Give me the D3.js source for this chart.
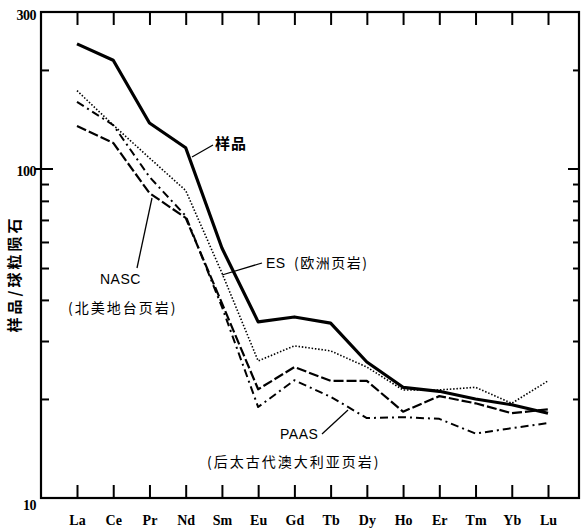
<!DOCTYPE html>
<html><head><meta charset="utf-8">
<script src="https://cdn.jsdelivr.net/npm/d3@7"></script>
<style>
body{margin:0;background:#fff;}
svg{display:block;}
</style></head>
<body>
<svg id="c" width="581" height="531"></svg>
<script>
const elements = ["La","Ce","Pr","Nd","Sm","Eu","Gd","Tb","Dy","Ho","Er","Tm","Yb","Lu"];
const sample = [240,214,138,116,57.5,34.3,35.5,34.0,25.9,21.7,21.1,20.0,19.2,18.1];
const es     = [173,136,108,86,48.3,26.1,29.0,28.0,25.0,21.3,21.3,21.7,19.4,22.7];
const nasc   = [135,120,84.5,71,39.1,21.4,25.0,22.7,22.7,18.3,20.4,19.4,18.1,18.6];
const paas   = [160,136,94.6,72,38.1,18.9,22.8,20.3,17.5,17.6,17.4,15.7,16.3,16.9];
const yTickLabels = [10,100,300];
const minorTicks = [20,30,40,50,60,70,80,90,200];

const svg = d3.select("#c");
const L=41, R=579, T=12, B=498;
const x = d3.scalePoint().domain(elements).range([77,548]);
const y = d3.scaleLog().domain([10,300]).range([B,T]);

// frame
svg.append("rect").attr("x",L).attr("y",T).attr("width",R-L).attr("height",B-T)
  .attr("fill","none").attr("stroke","#000").attr("stroke-width",2.2);

// bottom ticks (inward, up)
const gB = svg.append("g").attr("transform",`translate(0,${B})`)
  .call(d3.axisBottom(x).tickSizeInner(-13).tickSizeOuter(0).tickPadding(17));
gB.select(".domain").remove();
gB.selectAll("line").attr("stroke-width",2);
gB.selectAll("text").attr("font-family","'Liberation Serif','DejaVu Serif',serif")
  .attr("font-weight","bold").attr("font-size",14).attr("fill","#000");

// top ticks (inward, down)
const gT = svg.append("g").attr("transform",`translate(0,${T})`)
  .call(d3.axisTop(x).tickSizeInner(-13).tickSizeOuter(0).tickFormat(""));
gT.select(".domain").remove();
gT.selectAll("line").attr("stroke-width",2);

// left ticks
const gL = svg.append("g").attr("transform",`translate(${L},0)`)
  .call(d3.axisRight(y).tickValues(minorTicks).tickSizeInner(8).tickSizeOuter(0).tickFormat(""));
gL.select(".domain").remove();
gL.selectAll("line").attr("stroke-width",2);
svg.append("line").attr("x1",L-6).attr("x2",L+12).attr("y1",y(100)).attr("y2",y(100))
  .attr("stroke","#000").attr("stroke-width",2);

// right ticks
const gR = svg.append("g").attr("transform",`translate(${R},0)`)
  .call(d3.axisLeft(y).tickValues(minorTicks).tickSizeInner(6).tickSizeOuter(0).tickFormat(""));
gR.select(".domain").remove();
gR.selectAll("line").attr("stroke-width",2);
svg.append("line").attr("x1",R-11).attr("x2",R).attr("y1",y(100)).attr("y2",y(100))
  .attr("stroke","#000").attr("stroke-width",2);

// y labels
svg.selectAll("text.yl").data(yTickLabels).enter().append("text")
  .attr("class","yl").attr("x",36).attr("y",d=>y(d)+(d===10?12:(d===300?8:7)))
  .attr("text-anchor","end")
  .attr("font-family","'Liberation Serif','DejaVu Serif',serif").attr("font-weight","bold")
  .attr("font-size",14).attr("letter-spacing",-0.5).text(d=>d);

// y title
svg.append("text").attr("transform","translate(20,274) rotate(-90)")
  .attr("text-anchor","middle").attr("font-family","'Noto Sans CJK SC',sans-serif")
  .attr("font-weight","bold").attr("font-size",15).attr("letter-spacing",3)
  .text("样品/球粒陨石");

// lines
const line = d3.line().x((d,i)=>x(elements[i])).y(d=>y(d));
const series = [
  {v:sample, w:3.2, dash:null},
  {v:es, w:1.6, dash:"1.5,1.8"},
  {v:nasc, w:2.2, dash:"10,3"},
  {v:paas, w:2.0, dash:"8,4,2,4"}
];
svg.selectAll("path.s").data(series).enter().append("path").attr("class","s")
  .attr("d",d=>line(d.v)).attr("fill","none").attr("stroke","#000")
  .attr("stroke-width",d=>d.w).attr("stroke-dasharray",d=>d.dash)
  .attr("stroke-linejoin","round");

// annotations
const ann = [
  [192,157,213,145],
  [222,275,262,263],
  [152,198,137,268],
  [322,434,348,410]
];
svg.selectAll("line.p").data(ann).enter().append("line").attr("class","p")
  .attr("x1",d=>d[0]).attr("y1",d=>d[1]).attr("x2",d=>d[2]).attr("y2",d=>d[3])
  .attr("stroke","#000").attr("stroke-width",1.3);

const cjk = "'Noto Sans CJK SC',sans-serif";
const lat = "'Liberation Sans',Arial,sans-serif";
function txt(x0,y0,s,fam,size,ls,wt){
  svg.append("text").attr("x",x0).attr("y",y0).attr("font-family",fam)
    .attr("font-size",size).attr("letter-spacing",ls||0).attr("font-weight",wt||"normal").text(s);
}
txt(215,149,"样品",cjk,15,1,"bold");
txt(266,268,"ES",lat,14,0.5);
txt(294,268,"(欧洲页岩)",cjk,14,1.5);
txt(100,284,"NASC",lat,14,0.5);
txt(68,313,"(北美地台页岩)",cjk,14,2);
txt(280,439,"PAAS",lat,14,0.5);
txt(207,467,"(后太古代澳大利亚页岩)",cjk,14,2);
</script>
</body></html>
